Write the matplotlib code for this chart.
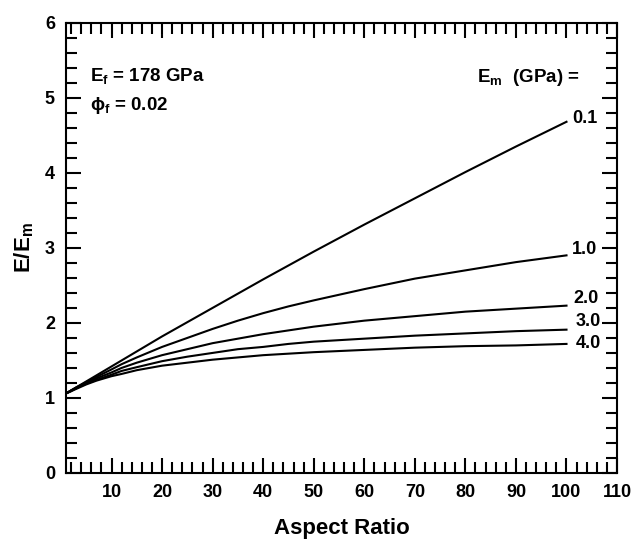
import matplotlib
matplotlib.use("Agg")
import matplotlib.pyplot as plt
from matplotlib.ticker import MultipleLocator, FixedLocator

plt.rcParams['font.family'] = ['Liberation Sans', 'DejaVu Sans']
plt.rcParams['font.weight'] = 'bold'
plt.rcParams['mathtext.fontset'] = 'custom'
plt.rcParams['mathtext.rm'] = 'Liberation Sans:bold'
plt.rcParams['mathtext.bf'] = 'Liberation Sans:bold'
plt.rcParams['mathtext.it'] = 'Liberation Sans:bold'
plt.rcParams['mathtext.default'] = 'rm'

# aspect ratio values read along the x axis
aspect = [1, 2, 3, 5, 7, 10, 12, 15, 20, 25, 30, 35, 40, 45, 50, 60, 70, 80, 90, 100]

# E/Em (Em = 0.1, 1, 2, 3, 4 GPa)
em_01 = [1.06, 1.10, 1.14, 1.22, 1.30, 1.42, 1.50, 1.62, 1.82, 2.01,
         2.20, 2.39, 2.58, 2.765, 2.95, 3.31, 3.66, 4.01, 4.35, 4.68]
em_10 = [1.06, 1.10, 1.14, 1.21, 1.28, 1.38, 1.45, 1.54, 1.68, 1.80,
         1.92, 2.03, 2.13, 2.22, 2.30, 2.45, 2.59, 2.70, 2.81, 2.90]
em_20 = [1.06, 1.10, 1.13, 1.20, 1.26, 1.34, 1.40, 1.47, 1.57, 1.65,
         1.73, 1.79, 1.85, 1.90, 1.95, 2.03, 2.09, 2.15, 2.19, 2.23]
em_30 = [1.06, 1.09, 1.13, 1.19, 1.24, 1.31, 1.36, 1.41, 1.49, 1.55,
         1.60, 1.65, 1.68, 1.72, 1.75, 1.79, 1.83, 1.86, 1.89, 1.91]
em_40 = [1.06, 1.09, 1.12, 1.18, 1.23, 1.29, 1.32, 1.37, 1.43, 1.47,
         1.51, 1.54, 1.57, 1.59, 1.61, 1.64, 1.67, 1.69, 1.70, 1.72]

curves = [em_01, em_10, em_20, em_30, em_40]
curve_labels = ['0.1', '1.0', '2.0', '3.0', '4.0']
label_x = [101.1, 101.1, 101.3, 101.9, 101.9]
label_y = [4.73, 2.98, 2.33, 2.02, 1.72]

x_ticks = [10, 20, 30, 40, 50, 60, 70, 80, 90, 100, 110]
y_ticks = [0, 1, 2, 3, 4, 5, 6]

fig = plt.figure(figsize=(6.36, 5.41), dpi=100)
ax = fig.add_axes([0.1038, 0.1257, 0.8664, 0.8323])

for vals in curves:
    ax.plot(aspect, vals, color='black', lw=1.5)

for lab, lx, ly in zip(curve_labels, label_x, label_y):
    ax.text(lx, ly, lab, fontsize=13, fontweight='bold', va='center', ha='left')

ax.text(5.8, 5.29, r'$\mathrm{E_f}$ = 178 GPa', fontsize=13.5, fontweight='bold', va='center')
ax.text(5.8, 4.90, r'$\phi_\mathrm{f}$ = 0.02', fontsize=13.5, fontweight='bold', va='center')
ax.text(82.2, 5.27, r'$\mathrm{E_m}$  (GPa) =', fontsize=13.5, fontweight='bold', va='center')

ax.set_xlim(1, 110)
ax.set_ylim(0, 6)
ax.xaxis.set_major_locator(FixedLocator(x_ticks))
ax.yaxis.set_major_locator(FixedLocator(y_ticks))
ax.xaxis.set_minor_locator(MultipleLocator(2))
ax.yaxis.set_minor_locator(MultipleLocator(0.2))
ax.tick_params(which='both', direction='in', top=True, right=True, width=1.5, labelsize=13)
ax.tick_params(which='major', length=11, pad=8)
ax.tick_params(which='minor', length=8)
for lab in ax.get_xticklabels() + ax.get_yticklabels():
    lab.set_fontweight('bold')
for sp in ax.spines.values():
    sp.set_linewidth(1.5)

ax.set_xlabel('Aspect Ratio', fontsize=16, fontweight='bold', labelpad=12)
ax.set_ylabel(r'$\mathrm{E/E_m}$', fontsize=16, fontweight='bold', labelpad=6)

fig.savefig('out.png', dpi=100)
